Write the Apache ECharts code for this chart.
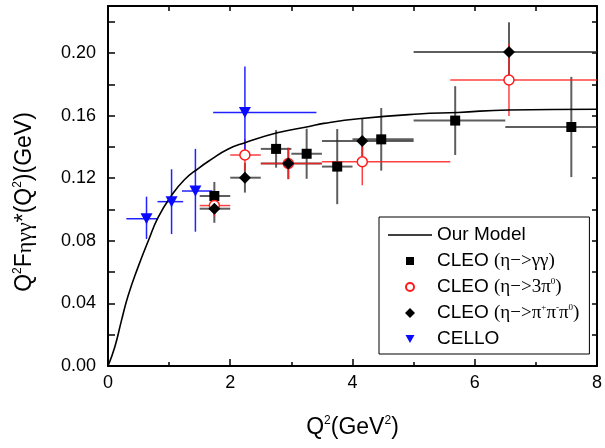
<!DOCTYPE html>
<html lang="en">
<head>
    <meta charset="UTF-8">
    <title>Q2 F eta gamma gamma*</title>
    <script src="https://cdn.jsdelivr.net/npm/echarts@6/dist/echarts.min.js"></script>
    <style>
        body { padding: 0; margin: 0; background: #fff; }
        #chart { width: 605px; height: 448px; }
    </style>
</head>
<body>
    <div id="chart"></div>

    <script>
        // model curve
        const modelQ2 = [0, 0.11, 0.22, 0.33, 0.49, 0.66, 0.82, 1.04, 1.25, 1.47, 1.69, 1.96, 2.23, 2.77, 3.29, 3.53, 4.10, 5.08, 5.73, 6.55, 8.0];
        const modelF = [0, 0.012, 0.029, 0.045, 0.063, 0.080, 0.095, 0.109, 0.119, 0.126, 0.132, 0.1385, 0.1425, 0.149, 0.153, 0.155, 0.158, 0.161, 0.162, 0.1636, 0.164];

        // CLEO eta -> gamma gamma
        const ggQ2 = [1.74, 2.75, 3.25, 3.75, 4.47, 5.68, 7.58];
        const ggF = [0.1086, 0.1387, 0.1356, 0.1274, 0.1448, 0.1568, 0.1527];
        const ggQ2Lo = [1.5, 2.5, 3.0, 3.5, 4.0, 5.0, 6.5];
        const ggQ2Hi = [2.0, 3.0, 3.5, 4.0, 5.0, 6.5, 8.0];
        const ggErr = [0.009, 0.012, 0.016, 0.024, 0.020, 0.022, 0.032];

        // CLEO eta -> 3 pi0
        const p3Q2 = [1.74, 2.24, 2.95, 4.16, 6.56];
        const p3F = [0.1025, 0.1348, 0.1294, 0.1305, 0.1827];
        const p3Q2Lo = [1.5, 2.0, 2.5, 3.5, 5.6];
        const p3Q2Hi = [2.0, 2.5, 3.5, 5.6, 8.0];
        const p3Err = [0.007, 0.010, 0.010, 0.015, 0.023];

        // CLEO eta -> pi+ pi- pi0
        const pcQ2 = [1.74, 2.24, 2.95, 4.16, 6.56];
        const pcF = [0.1005, 0.1203, 0.1294, 0.1438, 0.2006];
        const pcQ2Lo = [1.5, 2.0, 2.5, 3.5, 5.0];
        const pcQ2Hi = [2.0, 2.5, 3.5, 5.0, 8.0];
        const pcErr = [0.009, 0.0095, 0.010, 0.014, 0.019];

        // CELLO
        const ceQ2 = [0.63, 1.04, 1.43, 2.24];
        const ceF = [0.0940, 0.1050, 0.1118, 0.1619];
        const ceQ2Lo = [0.30, 0.81, 1.21, 1.72];
        const ceQ2Hi = [0.82, 1.23, 1.71, 3.41];
        const ceFLo = [0.0811, 0.0843, 0.0858, 0.137];
        const ceFHi = [0.1082, 0.1257, 0.1387, 0.1913];

        const xTicks = [0, 2, 4, 6, 8];

        const sans = 'Liberation Sans';
        const serif = 'Liberation Serif';
        const triDown = 'path://M0,0 L10,0 L5,9 Z';

        // legend icons: 44x10 box, mark in the middle (the lone M points keep the box size)
        const box = 'M0,0 M44,10 ';
        const iconLine = 'path://' + box + 'M0,4.3 L44,4.3 L44,5.7 L0,5.7 Z';
        const iconRect = 'path://' + box + 'M18,1 L26,1 L26,9 L18,9 Z';
        const iconCircle = 'path://' + box + 'M18,5 A4,4 0 1 1 26,5 A4,4 0 1 1 18,5 Z';
        const iconDiamond = 'path://' + box + 'M22,0 L27,5 L22,10 L17,5 Z';
        const iconTri = 'path://' + box + 'M17.5,1 L26.5,1 L22,9 Z';

        function errRows(q, f, qlo, qhi, flo, fhi) {
            return q.map((v, i) => [v, f[i], qlo[i], qhi[i], flo[i], fhi[i]]);
        }
        function symRows(q, f, qlo, qhi, err) {
            return errRows(q, f, qlo, qhi, f.map((v, i) => v - err[i]), f.map((v, i) => v + err[i]));
        }

        function errBars(color, width) {
            return function (params, api) {
                const x = api.value(0), y = api.value(1);
                const a = api.coord([api.value(2), y]), b = api.coord([api.value(3), y]);
                const c = api.coord([x, api.value(4)]), d = api.coord([x, api.value(5)]);
                const st = { stroke: color, lineWidth: width };
                return {
                    type: 'group',
                    children: [
                        { type: 'line', shape: { x1: a[0], y1: a[1], x2: b[0], y2: b[1] }, style: st },
                        { type: 'line', shape: { x1: c[0], y1: c[1], x2: d[0], y2: d[1] }, style: st }
                    ]
                };
            };
        }

        function errSeries(rows, color, width) {
            return {
                type: 'custom',
                renderItem: errBars(color, width),
                data: rows,
                encode: { x: [0, 2, 3], y: [1, 4, 5] },
                silent: true,
                z: 2
            };
        }

        const ggRows = symRows(ggQ2, ggF, ggQ2Lo, ggQ2Hi, ggErr);
        const p3Rows = symRows(p3Q2, p3F, p3Q2Lo, p3Q2Hi, p3Err);
        const pcRows = symRows(pcQ2, pcF, pcQ2Lo, pcQ2Hi, pcErr);
        const ceRows = errRows(ceQ2, ceF, ceQ2Lo, ceQ2Hi, ceFLo, ceFHi);

        const legendText = {
            'Our Model': 'Our Model',
            'CLEO gg': 'CLEO {g|(η−>γγ)}',
            'CLEO 3pi': 'CLEO {g|(η−>3π}{s|0}{g|)}',
            'CLEO pipipi': 'CLEO {g|(η−>π}{s|+}{g|π}{s|-}{g|π}{s|0}{g|)}',
            'CELLO': 'CELLO'
        };

        const axisBlack = { color: '#000', width: 2 };
        const tickBlack = { color: '#000', width: 1.5 };

        const chart = echarts.init(document.getElementById('chart'));
        chart.setOption({
            animation: false,
            textStyle: { fontFamily: sans },
            grid: { left: 108, right: 6, top: 6, bottom: 82 },
            legend: {
                data: [
                    { name: 'Our Model', icon: iconLine },
                    { name: 'CLEO gg', icon: iconRect },
                    { name: 'CLEO 3pi', icon: iconCircle },
                    { name: 'CLEO pipipi', icon: iconDiamond },
                    { name: 'CELLO', icon: iconTri }
                ],
                orient: 'vertical',
                left: 379,
                top: 217,
                width: 207,
                padding: [8, 10, 5, 8],
                borderColor: '#000',
                borderWidth: 1,
                backgroundColor: '#fff',
                itemWidth: 44,
                itemHeight: 10,
                itemGap: 6,
                symbolKeepAspect: false,
                selectedMode: false,
                formatter: name => legendText[name],
                textStyle: {
                    fontFamily: sans,
                    fontSize: 19,
                    color: '#000',
                    lineHeight: 20,
                    rich: {
                        g: { fontFamily: serif, fontSize: 19, lineHeight: 20 },
                        s: { fontFamily: serif, fontSize: 9, lineHeight: 9, verticalAlign: 'top' }
                    }
                }
            },
            xAxis: [{
                type: 'value',
                min: 0, max: 8, interval: 2,
                name: '{t|Q}{s|2}{t|(GeV}{s|2}{t|)}',
                nameLocation: 'middle',
                nameGap: 49,
                nameTextStyle: {
                    rich: {
                        t: { fontFamily: sans, fontSize: 23, color: '#000', lineHeight: 26 },
                        s: { fontFamily: sans, fontSize: 12, color: '#000', lineHeight: 12, verticalAlign: 'top' }
                    }
                },
                axisLine: { onZero: false, lineStyle: axisBlack },
                axisTick: { inside: true, length: 7, lineStyle: tickBlack },
                minorTick: { show: true, splitNumber: 2, length: 4, lineStyle: tickBlack },
                axisLabel: {
                    fontSize: 18, color: '#000', margin: 8,
                    formatter: v => xTicks.includes(v) ? String(v) : ''
                },
                splitLine: { show: false }
            }, {
                type: 'value', position: 'top',
                min: 0, max: 8, interval: 1,
                axisLine: { show: true, onZero: false, lineStyle: axisBlack },
                axisTick: { show: true, inside: true, length: 5, lineStyle: tickBlack },
                axisLabel: { show: false },
                splitLine: { show: false }
            }],
            yAxis: [{
                type: 'value',
                min: 0, max: 0.23, interval: 0.02,
                name: '{t|Q}{s|2}{t|F}{g|ηγγ}{t|*(Q}{s|2}{t|)(GeV)}',
                nameLocation: 'middle',
                nameGap: 70,
                nameRotate: 90,
                nameTextStyle: {
                    padding: [0, 32, 0, 0],
                    rich: {
                        t: { fontFamily: sans, fontSize: 23, color: '#000', lineHeight: 26 },
                        g: { fontFamily: serif, fontSize: 22, color: '#000', lineHeight: 26 },
                        s: { fontFamily: sans, fontSize: 12, color: '#000', lineHeight: 12, verticalAlign: 'top' }
                    }
                },
                axisLine: { show: true, onZero: false, lineStyle: axisBlack },
                axisTick: { show: true, inside: true, length: 7, lineStyle: tickBlack },
                axisLabel: {
                    fontSize: 18, color: '#000', margin: 12, showMaxLabel: false,
                    formatter: v => Math.round(v * 100) % 4 === 0 ? v.toFixed(2) : ''
                },
                splitLine: { show: false }
            }, {
                type: 'value', position: 'right',
                min: 0, max: 0.23, interval: 0.02,
                axisLine: { show: true, onZero: false, lineStyle: axisBlack },
                axisTick: { show: true, inside: true, length: 5, lineStyle: tickBlack },
                axisLabel: { show: false },
                splitLine: { show: false }
            }],
            series: [
                errSeries(ggRows, 'rgba(40,40,40,0.75)', 2),
                errSeries(pcRows, 'rgba(40,40,40,0.75)', 2),
                errSeries(p3Rows, 'rgba(255,30,30,0.85)', 1.5),
                errSeries(ceRows, 'rgba(10,10,255,0.9)', 1.5),
                {
                    name: 'Our Model',
                    type: 'line',
                    data: modelQ2.map((v, i) => [v, modelF[i]]),
                    smooth: true,
                    symbol: 'none',
                    lineStyle: { color: '#000', width: 1.6 },
                    itemStyle: { color: '#000' },
                    z: 3
                },
                {
                    name: 'CLEO gg',
                    type: 'scatter',
                    data: ggQ2.map((v, i) => [v, ggF[i]]),
                    symbol: 'rect',
                    symbolSize: 10,
                    itemStyle: { color: '#000', opacity: 1 },
                    z: 4
                },
                {
                    name: 'CLEO 3pi',
                    type: 'scatter',
                    data: p3Q2.map((v, i) => [v, p3F[i]]),
                    symbol: 'circle',
                    symbolSize: 10,
                    itemStyle: { color: '#fff', borderColor: '#ff1a1a', borderWidth: 1.5, opacity: 1 },
                    z: 5
                },
                {
                    name: 'CLEO pipipi',
                    type: 'scatter',
                    data: pcQ2.map((v, i) => [v, pcF[i]]),
                    symbol: 'diamond',
                    symbolSize: 12,
                    itemStyle: { color: '#000', opacity: 1 },
                    z: 5
                },
                {
                    name: 'CELLO',
                    type: 'scatter',
                    data: ceQ2.map((v, i) => [v, ceF[i]]),
                    symbol: triDown,
                    symbolSize: [12, 11],
                    itemStyle: { color: '#0a0aff', opacity: 1 },
                    z: 5
                }
            ]
        });
    </script>
</body>
</html>
